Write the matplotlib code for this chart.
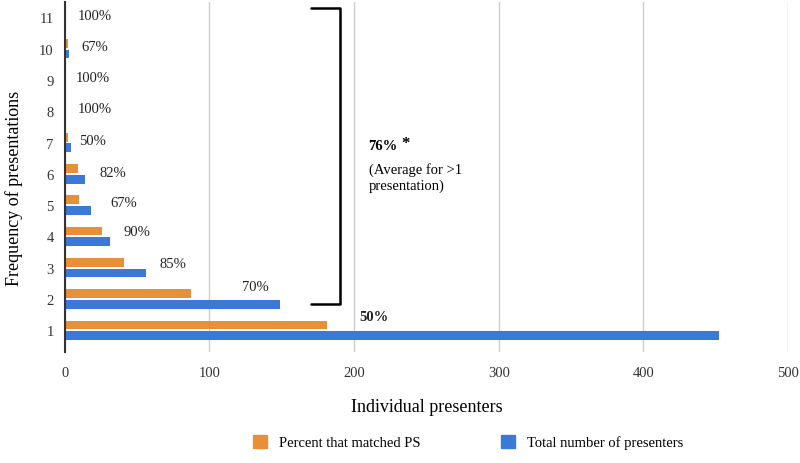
import matplotlib
matplotlib.use("Agg")
import matplotlib.pyplot as plt
import numpy as np
from matplotlib.patches import Patch

# data
freq = [1, 2, 3, 4, 5, 6, 7, 8, 9, 10, 11]
total_presenters = [452, 149, 56, 31, 18, 14, 4, 1, 1, 3, 1]
matched_ps = [181, 87, 41, 26, 10, 9, 2, 1, 0.6, 2, 1]
pct_labels = ["50%", "70%", "85%", "90%", "67%", "82%", "50%", "100%", "100%", "67%", "100%"]
pct_x = [214, 132, 75, 50, 41, 33, 19, 21, 19, 21, 21]
pct_y = [1.45, 2.41, 3.12, 4.14, 5.07, 6.03, 7.07, 8.08, 9.08, 10.07, 11.06]

ORANGE = "#E69138"
BLUE = "#3C78D8"

plt.rcParams["font.family"] = ["Liberation Serif", "DejaVu Serif"]

fig = plt.figure(figsize=(8, 4.64), dpi=100)
ax = fig.add_axes([0.081, 0.239, 0.904, 0.755])

y = np.array(freq)
h = 0.28
ax.barh(y + 0.17, matched_ps, height=h, color=ORANGE, label="Percent that matched PS")
ax.barh(y - 0.17, total_presenters, height=h, color=BLUE, label="Total number of presenters")

for i, lab in enumerate(pct_labels):
    ax.text(pct_x[i], pct_y[i], lab, ha="center", va="center", fontsize=10.5,
            color="#222222", fontweight="bold" if i == 0 else "normal")

# bracket over >1 presentation
ax.plot([170, 190.5, 190.5, 170], [11.29, 11.29, 1.83, 1.83], color="black",
        lw=1.8, solid_joinstyle="round", solid_capstyle="round")
ax.text(210, 6.9, "76%", fontsize=10.5, fontweight="bold", va="center", ha="left")
ax.text(233, 7.0, "*", fontsize=12, fontweight="bold", va="center", ha="left")
ax.text(210, 5.9, "(Average for >1\npresentation)", fontsize=10.5, va="center",
        ha="left", linespacing=1.3)

ax.set_xlim(0, 500)
ax.set_ylim(0.3, 11.5)
ax.set_xticks([0, 100, 200, 300, 400, 500])
ax.set_yticks(freq)
ax.tick_params(length=0, labelsize=10.5, colors="#333333")
ax.tick_params(axis="x", pad=10)
ax.tick_params(axis="y", pad=8)
ax.grid(axis="x", color="#cccccc", lw=1)
ax.set_axisbelow(True)
for s in ["top", "right", "bottom"]:
    ax.spines[s].set_visible(False)
ax.spines["left"].set_color("#333333")
ax.spines["left"].set_linewidth(1.5)

ax.set_xlabel("Individual presenters", fontsize=13, labelpad=14)
ax.set_ylabel("Frequency of presentations", fontsize=13)
ax.yaxis.set_label_coords(-0.058, 0.47)

handles = [Patch(color=ORANGE, label="Percent that matched PS"),
           Patch(color=BLUE, label="Total number of presenters")]
fig.legend(handles=handles, loc="center", bbox_to_anchor=(0.585, 0.045), ncol=2,
           frameon=False, fontsize=10.5, handlelength=1.0, handleheight=1.0,
           columnspacing=5.5, handletextpad=0.8)

fig.savefig("out.png", dpi=100)
